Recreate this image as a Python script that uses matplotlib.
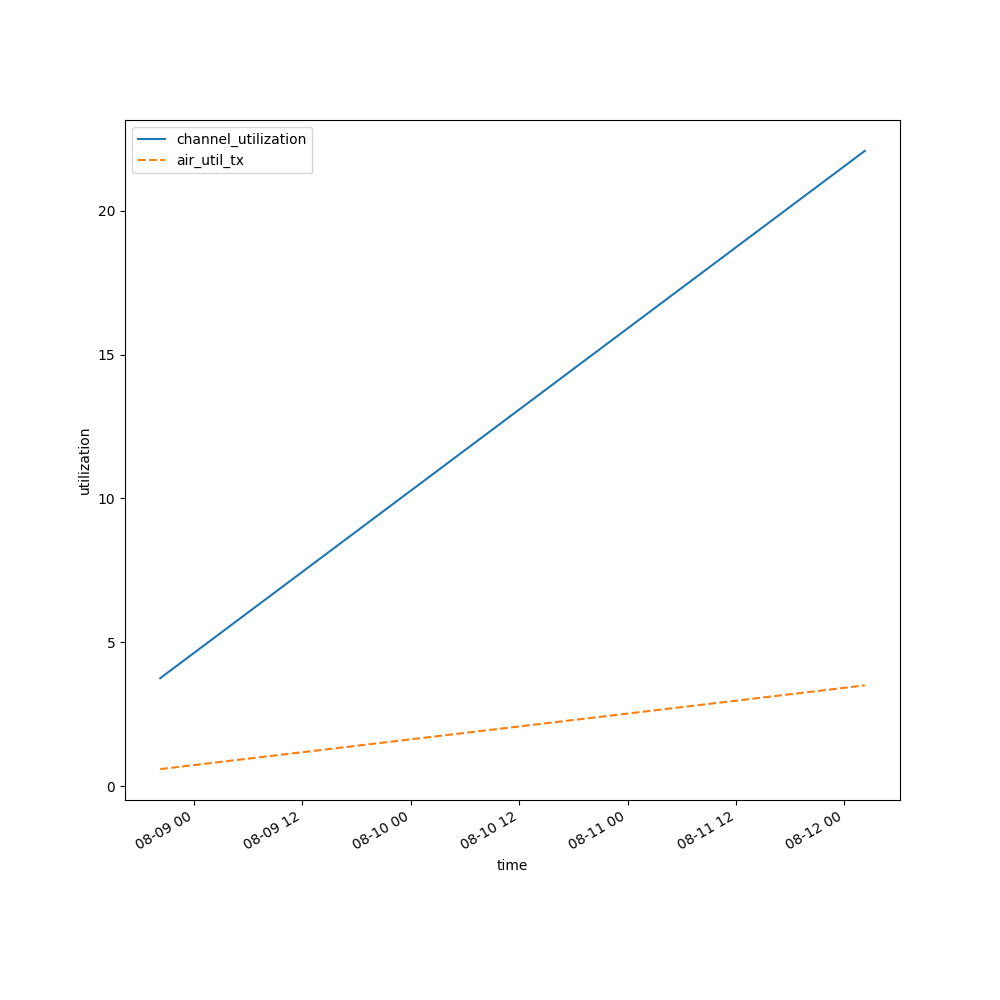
import matplotlib

matplotlib.use("Agg")
import matplotlib.pyplot as plt
import pandas as pd

times = pd.to_datetime(["2024-08-08 20:15", "2024-08-12 02:15"])
channel_utilization = [3.75, 22.08]
air_util_tx = [0.59, 3.50]

fig, ax = plt.subplots(figsize=(10, 10), dpi=100)
ax.plot(times, channel_utilization, label="channel_utilization")
ax.plot(times, air_util_tx, linestyle="--", label="air_util_tx")
ax.set_xlabel("time")
ax.set_ylabel("utilization")
ax.legend(loc="upper left")
fig.autofmt_xdate()
fig.savefig("out.png", dpi=100)
plt.close(fig)
